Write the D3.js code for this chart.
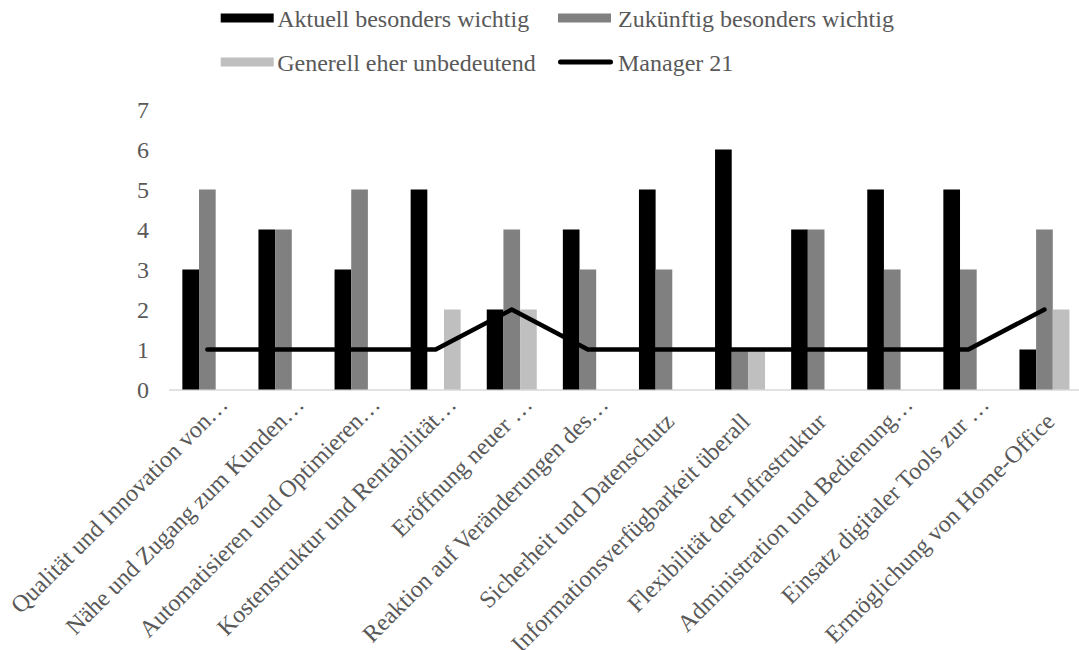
<!DOCTYPE html>
<html>
<head>
<meta charset="utf-8">
<script src="https://cdn.jsdelivr.net/npm/d3@7"></script>
<style>
  html, body { margin: 0; padding: 0; background: #ffffff; }
  svg { display: block; }
  text { font-family: "Liberation Serif", "Times New Roman", serif; fill: #595959; }
</style>
</head>
<body>
<svg id="chart" width="1079" height="650"></svg>
<script>
// Categories (x axis)
const categories = [
  "Qualität und Innovation von…",
  "Nähe und Zugang zum Kunden…",
  "Automatisieren und Optimieren…",
  "Kostenstruktur und Rentabilität…",
  "Eröffnung neuer …",
  "Reaktion auf Veränderungen des…",
  "Sicherheit und Datenschutz",
  "Informationsverfügbarkeit überall",
  "Flexibilität der Infrastruktur",
  "Administration und Bedienung…",
  "Einsatz digitaler Tools zur …",
  "Ermöglichung von Home-Office"
];

// Bar series
const seriesNames = ["Aktuell besonders wichtig", "Zukünftig besonders wichtig", "Generell eher unbedeutend"];
const aktuell   = [3, 4, 3, 5, 2, 4, 5, 6, 4, 5, 5, 1];
const zukuenftig = [5, 4, 5, 0, 4, 3, 3, 1, 4, 3, 3, 4];
const generell  = [0, 0, 0, 2, 2, 0, 0, 1, 0, 0, 0, 2];

// Line series
const lineName = "Manager 21";
const manager21 = [1, 1, 1, 1, 2, 1, 1, 1, 1, 1, 1, 2];

// Y axis ticks
const yTicks = [0, 1, 2, 3, 4, 5, 6, 7];

const barColors = ["#000000", "#808080", "#bfbfbf"];
const barSeries = [aktuell, zukuenftig, generell];

const svg = d3.select("#chart");

const plotLeft = 169.3, plotStep = 76.1;
const x0 = d3.scaleBand()
  .domain(categories)
  .range([plotLeft, plotLeft + plotStep * categories.length])
  .paddingInner(0.343)
  .paddingOuter(0.1715);

const x1 = d3.scaleBand()
  .domain(d3.range(seriesNames.length))
  .range([0, x0.bandwidth()])
  .padding(0);

const y = d3.scaleLinear().domain([0, 7]).range([389.5, 109.5]);

// Y tick labels
const yAxis = d3.axisLeft(y).tickValues(yTicks).tickSize(0).tickPadding(0).tickFormat(d3.format("d"));
const gy = svg.append("g").attr("transform", "translate(149,0)").call(yAxis);
gy.select(".domain").remove();
gy.selectAll("text")
  .attr("font-size", 24)
  .attr("font-family", "Liberation Serif, Times New Roman, serif")
  .attr("fill", "#595959")
  .attr("dy", "0.33em");

// Baseline
svg.append("line")
  .attr("x1", 169).attr("x2", 1079)
  .attr("y1", y(0) + 0.5).attr("y2", y(0) + 0.5)
  .attr("stroke", "#d9d9d9").attr("stroke-width", 1.5);

// Bars
const groups = svg.append("g").selectAll("g")
  .data(categories)
  .join("g")
  .attr("transform", d => `translate(${x0(d)},0)`);

groups.selectAll("rect")
  .data((d, i) => barSeries.map((s, k) => ({ k, v: s[i] })))
  .join("rect")
  .attr("x", d => x1(d.k))
  .attr("width", x1.bandwidth())
  .attr("y", d => y(d.v))
  .attr("height", d => y(0) - y(d.v))
  .attr("fill", d => barColors[d.k]);

// Manager 21 line
const line = d3.line()
  .x((d, i) => x0(categories[i]) + x0.bandwidth() / 2)
  .y(d => y(d));
svg.append("path")
  .datum(manager21)
  .attr("d", line)
  .attr("fill", "none")
  .attr("stroke", "#000000")
  .attr("stroke-width", 4.5)
  .attr("stroke-linecap", "round")
  .attr("stroke-linejoin", "round");

// X axis labels, rotated -45°; truncated labels sit a little higher
const xLabels = svg.append("g");
categories.forEach(c => {
  const cx = x0(c) + x0.bandwidth() / 2;
  const truncated = c.endsWith("…");
  const ax = cx + (truncated ? 22 : 11.5);
  const ay = truncated ? 406 : 423;
  xLabels.append("text")
    .attr("transform", `translate(${ax},${ay}) rotate(-45)`)
    .attr("text-anchor", "end")
    .attr("font-size", 24)
    .text(c);
});

// Legend
const legendItems = [
  { name: seriesNames[0], type: "rect", color: barColors[0], x: 220.7, y: 18 },
  { name: seriesNames[1], type: "rect", color: barColors[1], x: 558, y: 18 },
  { name: seriesNames[2], type: "rect", color: barColors[2], x: 220.7, y: 62 },
  { name: lineName, type: "line", color: "#000000", x: 558, y: 62 }
];
const legend = svg.append("g");
legendItems.forEach(it => {
  if (it.type === "rect") {
    legend.append("rect")
      .attr("x", it.x).attr("y", it.y - 4.5)
      .attr("width", 53).attr("height", 9)
      .attr("fill", it.color);
  } else {
    legend.append("line")
      .attr("x1", it.x + 2.5).attr("x2", it.x + 52.5)
      .attr("y1", it.y).attr("y2", it.y)
      .attr("stroke", it.color).attr("stroke-width", 5)
      .attr("stroke-linecap", "round");
  }
  legend.append("text")
    .attr("x", it.x + (it.type === "rect" && it.x < 300 ? 56.5 : 60))
    .attr("y", it.y + 9)
    .attr("font-size", 24)
    .text(it.name);
});
</script>
</body>
</html>
